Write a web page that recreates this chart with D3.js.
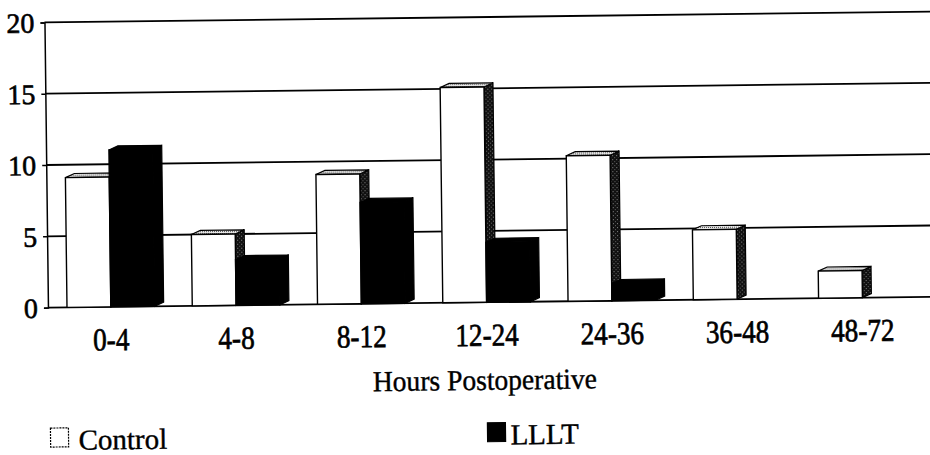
<!DOCTYPE html>
<html>
<head>
<meta charset="utf-8">
<script src="https://cdn.jsdelivr.net/npm/d3@7"></script>
<style>
  html, body { margin: 0; padding: 0; background: #fff; }
  svg { display: block; }
</style>
</head>
<body>
<svg id="chart" width="930" height="455"></svg>
<script>

/* ── Data ── */
const categories    = ['0-4', '4-8', '8-12', '12-24', '24-36', '36-48', '48-72'];
const seriesNames   = ['Control', 'LLLT'];
const controlValues = [9.1, 5.0, 9.1, 15.1, 10.2, 4.9, 1.9];
const llltValues    = [11.0, 3.2, 7.1, 4.2, 1.2, 0, 0];
const yTicks        = [0, 5, 10, 15, 20];
const xAxisTitle    = 'Hours Postoperative';

const rows = categories.map((c, i) => ({
  cat: c,
  values: [
    { series: 'Control', v: controlValues[i] },
    { series: 'LLLT',    v: llltValues[i] }
  ]
}));

/* ── Layout ── */
const width = 930, height = 455;
const axisX = 47;
const depthX = 9, depthY = 4;
const serif = '"Liberation Serif", "Times New Roman", serif';

const svg = d3.select('#chart');

/* stipple patterns for the 3D faces */
const defs = svg.append('defs');

const sideDots = defs.append('pattern')
  .attr('id', 'side-dots').attr('patternUnits', 'userSpaceOnUse')
  .attr('width', 4).attr('height', 4);
sideDots.append('rect').attr('width', 4).attr('height', 4).attr('fill', '#111');
sideDots.append('rect').attr('x', 1).attr('y', 1).attr('width', 1).attr('height', 1).attr('fill', '#8a8a8a');
sideDots.append('rect').attr('x', 3).attr('y', 3).attr('width', 1).attr('height', 1).attr('fill', '#666');

const topDots = defs.append('pattern')
  .attr('id', 'top-dots').attr('patternUnits', 'userSpaceOnUse')
  .attr('width', 2).attr('height', 2);
topDots.append('rect').attr('width', 2).attr('height', 2).attr('fill', '#e8e8e8');
topDots.append('rect').attr('width', 1).attr('height', 1).attr('fill', '#555');

/* whole scan is tilted a little */
const chart = svg.append('g')
  .attr('transform', 'rotate(-0.7, 465, 227)');

/* ── Scales ── */
const yScale = d3.scaleLinear()
  .domain([0, 20])
  .range([302.5, 17.3]);

const xScale = d3.scaleBand()
  .domain(categories)
  .range([46, 925.4])
  .paddingInner(0.3)
  .paddingOuter(0.16);

const xSeries = d3.scaleBand()
  .domain(seriesNames)
  .range([0, xScale.bandwidth()]);

/* ── Gridlines ── */
chart.append('g').attr('class', 'grid')
  .selectAll('line')
  .data(yTicks)
  .join('line')
  .attr('x1', axisX).attr('x2', width + 10)
  .attr('y1', d => yScale(d)).attr('y2', d => yScale(d))
  .attr('stroke', '#000')
  .attr('stroke-width', 1.8);

/* ── Y axis ── */
const yAxis = chart.append('g')
  .attr('class', 'y-axis')
  .attr('transform', `translate(${axisX},0)`)
  .call(d3.axisLeft(yScale).tickValues(yTicks).tickSize(4).tickPadding(6));

yAxis.select('.domain')
  .attr('stroke', '#000').attr('stroke-width', 1.5);
yAxis.selectAll('.tick line')
  .attr('stroke', '#000').attr('stroke-width', 1.5);
yAxis.selectAll('text')
  .attr('font-family', serif)
  .attr('font-size', 28)
  .attr('fill', '#000')
  .attr('stroke', '#000').attr('stroke-width', 0.6)
  .attr('dy', '0.34em');

/* ── 3D bars ── */
function barFaces(g, d, x0) {
  const x = x0 + xSeries(d.series);
  const w = xSeries.bandwidth();
  const yTop = yScale(d.v);
  const yBase = yScale(0);
  const isControl = d.series === 'Control';

  /* right side face */
  g.append('polygon')
    .attr('points', [
      [x + w, yTop], [x + w + depthX, yTop - depthY],
      [x + w + depthX, yBase - depthY], [x + w, yBase]
    ].join(' '))
    .attr('fill', isControl ? 'url(#side-dots)' : '#000')
    .attr('stroke', '#000').attr('stroke-width', 1.2);

  /* top face */
  g.append('polygon')
    .attr('points', [
      [x, yTop], [x + depthX, yTop - depthY],
      [x + w + depthX, yTop - depthY], [x + w, yTop]
    ].join(' '))
    .attr('fill', isControl ? 'url(#top-dots)' : '#000')
    .attr('stroke', '#000').attr('stroke-width', 1.2);

  /* front face */
  g.append('rect')
    .attr('x', x).attr('y', yTop)
    .attr('width', w).attr('height', yBase - yTop)
    .attr('fill', isControl ? '#fff' : '#000')
    .attr('stroke', '#000').attr('stroke-width', 1.4);
}

const groups = chart.append('g').attr('class', 'bars')
  .selectAll('g')
  .data(rows)
  .join('g');

groups.each(function(row) {
  const g = d3.select(this);
  const x0 = xScale(row.cat);
  row.values
    .filter(d => d.v > 0)
    .forEach(d => barFaces(g, d, x0));
});

/* ── X labels ── */
chart.append('g').attr('class', 'x-labels')
  .selectAll('text')
  .data(categories)
  .join('text')
  .attr('transform', d => `translate(${xScale(d) + xScale.bandwidth() / 2},346) scale(0.85,1)`)
  .attr('text-anchor', 'middle')
  .attr('font-family', serif)
  .attr('font-size', 32)
  .attr('fill', '#000')
  .attr('stroke', '#000').attr('stroke-width', 0.7)
  .text(d => d);

chart.append('text')
  .attr('transform', 'translate(483,390) scale(0.95,1)')
  .attr('text-anchor', 'middle')
  .attr('font-family', serif)
  .attr('font-size', 29)
  .attr('fill', '#000')
  .attr('stroke', '#000').attr('stroke-width', 0.4)
  .text(xAxisTitle);

/* ── Legend ── */
const legendPos = [{ x: 48, tx: 76 }, { x: 485, tx: 508 }];

const legend = chart.append('g').attr('class', 'legend')
  .selectAll('g')
  .data(seriesNames)
  .join('g');

legend.append('rect')
  .attr('x', (d, i) => legendPos[i].x).attr('y', 423)
  .attr('width', 18).attr('height', 19)
  .attr('fill', d => d === 'Control' ? '#fff' : '#000')
  .attr('stroke', '#000')
  .attr('stroke-width', 1.2)
  .attr('stroke-dasharray', d => d === 'Control' ? '2,1' : null);

legend.append('text')
  .attr('x', (d, i) => legendPos[i].tx).attr('y', 445)
  .attr('font-family', serif)
  .attr('font-size', 29)
  .attr('fill', '#000')
  .attr('stroke', '#000').attr('stroke-width', 0.4)
  .text(d => d);

</script>
</body>
</html>
